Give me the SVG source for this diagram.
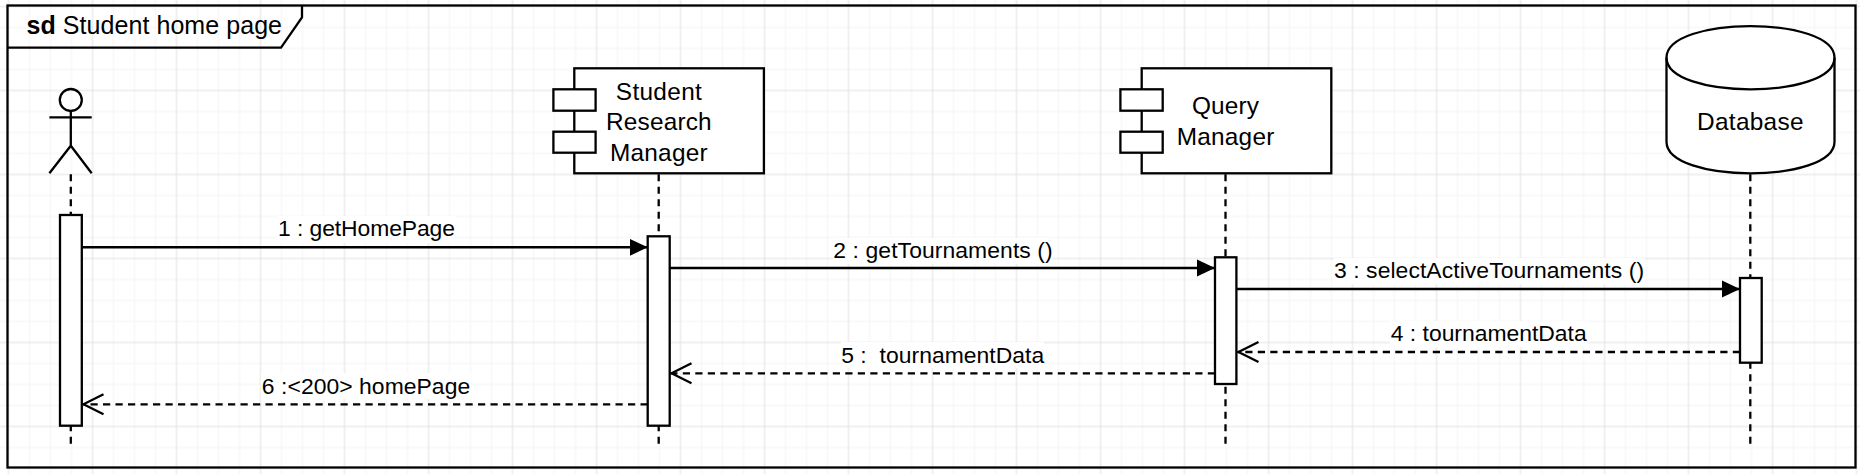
<svg xmlns="http://www.w3.org/2000/svg" width="1860" height="474" viewBox="0 0 1860 474">
<style>
text{font-family:"Liberation Sans",Arial,sans-serif;fill:#000}
.n{font-size:24.4px;text-anchor:middle}
.m{font-size:22.9px;text-anchor:middle}
.s{fill:#fff;stroke:#000;stroke-width:2.3}
.o{fill:none;stroke:#000;stroke-width:2.3}
.l{fill:none;stroke:#000;stroke-width:2.3;stroke-dasharray:7 5.5}
.c{fill:none;stroke:#000;stroke-width:2.5}
.d{fill:none;stroke:#000;stroke-width:2.3;stroke-dasharray:7.2 5.3}
.b{fill:#fff}
</style>
<defs>
<pattern id="grid" patternUnits="userSpaceOnUse" x="-1.5" y="-3.5" width="84" height="84">
<path d="M31 0V84M52 0V84M73 0V84M0 31H84M0 52H84M0 73H84" fill="none" stroke="#f7f7f7" stroke-width="1.5"/>
<path d="M10 0V84M0 10H84" fill="none" stroke="#e0e0e0" stroke-width="1"/>
</pattern>
<marker id="fill" markerUnits="userSpaceOnUse" markerWidth="19" markerHeight="20" refX="18" refY="9.5" orient="auto">
<path d="M0 1L18 9.5L0 18Z" fill="#000"/>
</marker>
<marker id="open" markerUnits="userSpaceOnUse" markerWidth="24" markerHeight="24" refX="22" refY="12" orient="auto">
<path d="M1 2L21 12L1 22" fill="none" stroke="#000" stroke-width="2.3"/>
</marker>
</defs>
<rect width="1860" height="474" fill="#fff"/>
<rect width="1860" height="474" fill="url(#grid)"/>
<g id="frame">
<rect class="o" x="7.5" y="5.5" width="1848" height="462"/>
<path class="o" d="M7.5 47.7H281L302 17.3V5.5"/>
<text x="26.5" y="34.3" font-size="25" textLength="255.5"><tspan font-weight="bold">sd</tspan> Student home page</text>
</g>
<g id="actor">
<path class="l" d="M70.8 174.2V444"/>
<ellipse class="o" cx="70.8" cy="100" rx="11" ry="11"/>
<path class="o" d="M70.8 111V145.7M49.4 117.3H91.7M49.4 173.3L70.8 145.7L91.7 173.3"/>
</g>
<g id="student-research-manager">
<path class="l" d="M658.7 174.2V444"/>
<rect class="s" x="574.3" y="68.3" width="189.6" height="105"/>
<rect class="s" x="553.4" y="89.3" width="42.2" height="21.4"/>
<rect class="s" x="553.4" y="131.7" width="42.2" height="21"/>
<text class="n" x="658.8" y="99.5" textLength="86">Student</text>
<text class="n" x="658.8" y="130" textLength="105.7">Research</text>
<text class="n" x="658.8" y="160.5" textLength="97.7">Manager</text>
</g>
<g id="query-manager">
<path class="l" d="M1225.5 174.2V444"/>
<rect class="s" x="1141.7" y="68.3" width="189.6" height="105"/>
<rect class="s" x="1120.4" y="89.3" width="42.3" height="21.4"/>
<rect class="s" x="1120.4" y="131.7" width="42.3" height="21"/>
<text class="n" x="1225.5" y="114.3" textLength="67">Query</text>
<text class="n" x="1225.5" y="145.3" textLength="97.7">Manager</text>
</g>
<g id="database">
<path class="l" d="M1750.3 174.2V444"/>
<path class="s" d="M1666.5 57.7C1666.5 15.6 1834.5 15.6 1834.5 57.7V141.7C1834.5 183.8 1666.5 183.8 1666.5 141.7Z"/>
<path class="o" d="M1666.5 57.7C1666.5 99.8 1834.5 99.8 1834.5 57.7"/>
<text class="n" x="1750.3" y="129.5" textLength="106.4">Database</text>
</g>
<g id="activation-actor"><rect class="s" x="60" y="215" width="21.8" height="210.7"/></g>
<g id="activation-student"><rect class="s" x="647.7" y="236.3" width="22" height="189.4"/></g>
<g id="activation-query"><rect class="s" x="1215" y="257.3" width="21.4" height="126.7"/></g>
<g id="activation-database"><rect class="s" x="1740" y="278" width="21.7" height="84.7"/></g>
<g id="connectors">
<path class="c" d="M81.8 247.3H647.7" marker-end="url(#fill)"/>
<path class="c" d="M669.8 268H1215" marker-end="url(#fill)"/>
<path class="c" d="M1236.4 289H1740" marker-end="url(#fill)"/>
<path class="d" d="M1740 352H1237.5" marker-end="url(#open)"/>
<path class="d" d="M1215 373.3H670.5" marker-end="url(#open)"/>
<path class="d" d="M647.7 404.3H82.5" marker-end="url(#open)"/>
<rect class="b" x="277" y="216" width="178" height="27"/>
<text class="m" x="366.5" y="236" textLength="177">1 : getHomePage</text>
<rect class="b" x="833" y="238" width="220" height="26"/>
<text class="m" x="943" y="258" textLength="219.4">2 : getTournaments ()</text>
<rect class="b" x="1334" y="258" width="311" height="26"/>
<text class="m" x="1489" y="278.3" textLength="310">3 : selectActiveTournaments ()</text>
<rect class="b" x="1390" y="321" width="197" height="26"/>
<text class="m" x="1488.7" y="341.3" textLength="196">4 : tournamentData</text>
<rect class="b" x="841" y="342" width="203" height="26"/>
<text class="m" x="942.7" y="362.7" xml:space="preserve" textLength="203">5 :  tournamentData</text>
<rect class="b" x="261" y="373" width="210" height="26"/>
<text class="m" x="366" y="394" textLength="208.3">6 :&lt;200&gt; homePage</text>
</g>
</svg>
